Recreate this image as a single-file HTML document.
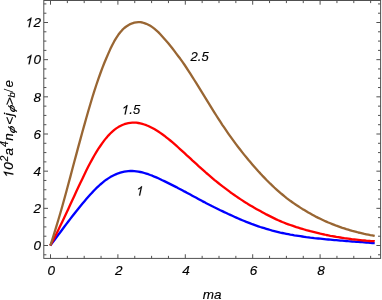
<!DOCTYPE html>
<html><head><meta charset="utf-8"><title>plot</title>
<style>
html,body{margin:0;padding:0;background:#fff;}
body{width:382px;height:300px;overflow:hidden;}
svg{display:block;will-change:transform;}
text{font-family:"Liberation Sans",sans-serif;font-style:italic;font-size:13.5px;fill:#000;stroke:#000;stroke-width:0.15px;}
</style></head><body>
<svg width="382" height="300" viewBox="0 0 382 300">
<defs><path id="one" d="M0.3726 0H0.2847V-0.56Q0.2529 -0.5298 0.2014 -0.4995Q0.1499 -0.4692 0.1089 -0.4541V-0.5391Q0.1826 -0.5737 0.2378 -0.623Q0.293 -0.6724 0.3159 -0.7188H0.3726Z" transform="skewX(-12)" stroke="#000" stroke-width="0.012"/></defs>
<rect width="382" height="300" fill="#fff"/>
<g fill="none" stroke-linejoin="round" stroke-linecap="butt" stroke-width="2.3">
<path d="M50.3 245.5 L52.3 242.9 L54.3 240.2 L56.3 237.5 L58.3 234.8 L60.3 232.2 L62.3 229.5 L64.3 226.8 L66.3 224.1 L68.3 221.5 L70.3 218.9 L72.3 216.3 L74.3 213.7 L76.3 211.2 L78.3 208.7 L80.3 206.2 L82.3 203.8 L84.3 201.5 L86.3 199.1 L88.3 196.8 L90.3 194.6 L92.3 192.4 L94.3 190.3 L96.3 188.2 L98.3 186.3 L100.3 184.5 L102.3 182.8 L104.3 181.2 L106.3 179.7 L108.3 178.4 L110.3 177.1 L112.3 176.0 L114.3 175.0 L116.3 174.1 L118.3 173.3 L120.3 172.7 L122.3 172.1 L124.3 171.7 L126.3 171.3 L128.3 171.1 L130.3 171.0 L132.3 171.0 L134.3 171.1 L136.3 171.3 L138.3 171.6 L140.3 172.0 L142.3 172.4 L144.3 173.0 L146.3 173.6 L148.3 174.2 L150.3 175.0 L152.3 175.7 L154.3 176.6 L156.3 177.4 L158.3 178.3 L160.3 179.2 L162.3 180.2 L164.3 181.1 L166.3 182.1 L168.3 183.1 L170.3 184.1 L172.3 185.1 L174.3 186.1 L176.3 187.1 L178.3 188.2 L180.3 189.2 L182.3 190.3 L184.3 191.4 L186.3 192.4 L188.3 193.5 L190.3 194.6 L192.3 195.7 L194.3 196.8 L196.3 197.8 L198.3 198.9 L200.3 200.0 L202.3 201.1 L204.3 202.1 L206.3 203.2 L208.3 204.2 L210.3 205.2 L212.3 206.3 L214.3 207.3 L216.3 208.2 L218.3 209.2 L220.3 210.2 L222.3 211.1 L224.3 212.1 L226.3 213.0 L228.3 214.0 L230.3 214.9 L232.3 215.8 L234.3 216.7 L236.3 217.6 L238.3 218.5 L240.3 219.4 L242.3 220.2 L244.3 221.0 L246.3 221.9 L248.3 222.6 L250.3 223.4 L252.3 224.2 L254.3 224.9 L256.3 225.6 L258.3 226.3 L260.3 227.0 L262.3 227.6 L264.3 228.2 L266.3 228.8 L268.3 229.4 L270.3 230.0 L272.3 230.6 L274.3 231.1 L276.3 231.6 L278.3 232.1 L280.3 232.6 L282.3 233.0 L284.3 233.4 L286.3 233.8 L288.3 234.2 L290.3 234.6 L292.3 234.9 L294.3 235.3 L296.3 235.6 L298.3 235.9 L300.3 236.2 L302.3 236.5 L304.3 236.8 L306.3 237.1 L308.3 237.3 L310.3 237.6 L312.3 237.8 L314.3 238.1 L316.3 238.3 L318.3 238.5 L320.3 238.7 L322.3 238.9 L324.3 239.1 L326.3 239.3 L328.3 239.5 L330.3 239.7 L332.3 239.9 L334.3 240.1 L336.3 240.2 L338.3 240.4 L340.3 240.6 L342.3 240.7 L344.3 240.9 L346.3 241.0 L348.3 241.2 L350.3 241.3 L352.3 241.5 L354.3 241.6 L356.3 241.8 L358.3 241.9 L360.3 242.1 L362.3 242.2 L364.3 242.4 L366.3 242.5 L368.3 242.7 L370.3 242.9 L372.3 243.0 L374.3 243.2 L374.7 243.2" stroke="#0000ff"/>
<path d="M50.3 245.5 L52.3 241.7 L54.3 237.9 L56.3 233.9 L58.3 229.9 L60.3 225.8 L62.3 221.7 L64.3 217.5 L66.3 213.2 L68.3 209.0 L70.3 204.6 L72.3 200.3 L74.3 195.9 L76.3 191.6 L78.3 187.3 L80.3 183.1 L82.3 178.9 L84.3 174.7 L86.3 170.6 L88.3 166.6 L90.3 162.8 L92.3 159.1 L94.3 155.5 L96.3 152.1 L98.3 148.9 L100.3 146.0 L102.3 143.1 L104.3 140.4 L106.3 137.9 L108.3 135.6 L110.3 133.5 L112.3 131.6 L114.3 129.9 L116.3 128.4 L118.3 127.1 L120.3 126.0 L122.3 125.0 L124.3 124.2 L126.3 123.6 L128.3 123.1 L130.3 122.8 L132.3 122.7 L134.3 122.6 L136.3 122.7 L138.3 123.0 L140.3 123.4 L142.3 123.9 L144.3 124.5 L146.3 125.2 L148.3 126.0 L150.3 127.0 L152.3 128.0 L154.3 129.1 L156.3 130.3 L158.3 131.5 L160.3 132.9 L162.3 134.3 L164.3 135.7 L166.3 137.3 L168.3 138.9 L170.3 140.5 L172.3 142.2 L174.3 143.9 L176.3 145.7 L178.3 147.5 L180.3 149.3 L182.3 151.1 L184.3 152.9 L186.3 154.8 L188.3 156.6 L190.3 158.4 L192.3 160.3 L194.3 162.1 L196.3 163.9 L198.3 165.8 L200.3 167.6 L202.3 169.4 L204.3 171.2 L206.3 173.0 L208.3 174.7 L210.3 176.4 L212.3 178.1 L214.3 179.8 L216.3 181.4 L218.3 183.0 L220.3 184.6 L222.3 186.2 L224.3 187.7 L226.3 189.2 L228.3 190.7 L230.3 192.2 L232.3 193.6 L234.3 195.0 L236.3 196.4 L238.3 197.8 L240.3 199.1 L242.3 200.4 L244.3 201.7 L246.3 202.9 L248.3 204.2 L250.3 205.4 L252.3 206.6 L254.3 207.8 L256.3 208.9 L258.3 210.0 L260.3 211.1 L262.3 212.2 L264.3 213.3 L266.3 214.4 L268.3 215.4 L270.3 216.4 L272.3 217.4 L274.3 218.4 L276.3 219.4 L278.3 220.3 L280.3 221.1 L282.3 222.0 L284.3 222.8 L286.3 223.6 L288.3 224.3 L290.3 225.0 L292.3 225.7 L294.3 226.4 L296.3 227.1 L298.3 227.7 L300.3 228.3 L302.3 228.9 L304.3 229.5 L306.3 230.1 L308.3 230.6 L310.3 231.2 L312.3 231.7 L314.3 232.2 L316.3 232.7 L318.3 233.2 L320.3 233.7 L322.3 234.1 L324.3 234.5 L326.3 235.0 L328.3 235.4 L330.3 235.8 L332.3 236.1 L334.3 236.5 L336.3 236.9 L338.3 237.2 L340.3 237.5 L342.3 237.8 L344.3 238.2 L346.3 238.4 L348.3 238.7 L350.3 239.0 L352.3 239.3 L354.3 239.5 L356.3 239.7 L358.3 239.9 L360.3 240.1 L362.3 240.3 L364.3 240.5 L366.3 240.7 L368.3 240.8 L370.3 241.0 L372.3 241.1 L374.3 241.2 L374.7 241.3" stroke="#ff0000"/>
<path d="M50.3 245.5 L52.3 239.5 L54.3 233.2 L56.3 226.7 L58.3 220.0 L60.3 213.2 L62.3 206.2 L64.3 199.0 L66.3 191.7 L68.3 184.3 L70.3 176.9 L72.3 169.3 L74.3 161.8 L76.3 154.4 L78.3 146.9 L80.3 139.6 L82.3 132.3 L84.3 125.1 L86.3 118.0 L88.3 111.0 L90.3 104.2 L92.3 97.5 L94.3 91.2 L96.3 85.0 L98.3 79.1 L100.3 73.5 L102.3 68.1 L104.3 63.0 L106.3 58.2 L108.3 53.6 L110.3 49.1 L112.3 45.0 L114.3 41.2 L116.3 37.8 L118.3 34.8 L120.3 32.2 L122.3 29.9 L124.3 28.0 L126.3 26.5 L128.3 25.2 L130.3 24.1 L132.3 23.3 L134.3 22.7 L136.3 22.3 L138.3 22.1 L140.3 22.2 L142.3 22.5 L144.3 23.1 L146.3 23.8 L148.3 24.7 L150.3 25.8 L152.3 27.1 L154.3 28.6 L156.3 30.3 L158.3 32.1 L160.3 34.2 L162.3 36.4 L164.3 38.7 L166.3 40.9 L168.3 43.2 L170.3 45.7 L172.3 48.2 L174.3 50.9 L176.3 53.6 L178.3 56.2 L180.3 58.8 L182.3 61.6 L184.3 64.5 L186.3 67.5 L188.3 70.6 L190.3 73.7 L192.3 76.8 L194.3 80.0 L196.3 83.2 L198.3 86.4 L200.3 89.7 L202.3 92.9 L204.3 96.1 L206.3 99.4 L208.3 102.6 L210.3 105.9 L212.3 109.1 L214.3 112.3 L216.3 115.5 L218.3 118.6 L220.3 121.7 L222.3 124.8 L224.3 127.7 L226.3 130.7 L228.3 133.6 L230.3 136.4 L232.3 139.2 L234.3 141.9 L236.3 144.6 L238.3 147.2 L240.3 149.8 L242.3 152.4 L244.3 154.9 L246.3 157.3 L248.3 159.8 L250.3 162.1 L252.3 164.5 L254.3 166.8 L256.3 169.0 L258.3 171.3 L260.3 173.4 L262.3 175.6 L264.3 177.6 L266.3 179.7 L268.3 181.7 L270.3 183.7 L272.3 185.6 L274.3 187.5 L276.3 189.3 L278.3 191.1 L280.3 192.9 L282.3 194.5 L284.3 196.2 L286.3 197.8 L288.3 199.3 L290.3 200.8 L292.3 202.2 L294.3 203.6 L296.3 205.0 L298.3 206.3 L300.3 207.6 L302.3 208.9 L304.3 210.1 L306.3 211.3 L308.3 212.5 L310.3 213.6 L312.3 214.7 L314.3 215.8 L316.3 216.9 L318.3 217.9 L320.3 218.8 L322.3 219.8 L324.3 220.7 L326.3 221.6 L328.3 222.5 L330.3 223.3 L332.3 224.1 L334.3 224.9 L336.3 225.7 L338.3 226.4 L340.3 227.1 L342.3 227.8 L344.3 228.4 L346.3 229.1 L348.3 229.7 L350.3 230.3 L352.3 230.9 L354.3 231.4 L356.3 231.9 L358.3 232.5 L360.3 232.9 L362.3 233.4 L364.3 233.9 L366.3 234.3 L368.3 234.7 L370.3 235.1 L372.3 235.4 L374.3 235.8 L374.7 235.9" stroke="#996633"/>
</g>
<rect x="43.8" y="0.5" width="336.8" height="257.9" fill="none" stroke="#505050" stroke-width="1"/>
<path d="M50.50 258.45V254.25M50.50 0.50V4.70M67.35 258.45V255.85M67.35 0.50V3.10M84.20 258.45V255.85M84.20 0.50V3.10M101.05 258.45V255.85M101.05 0.50V3.10M117.90 258.45V254.25M117.90 0.50V4.70M134.75 258.45V255.85M134.75 0.50V3.10M151.60 258.45V255.85M151.60 0.50V3.10M168.45 258.45V255.85M168.45 0.50V3.10M185.30 258.45V254.25M185.30 0.50V4.70M202.15 258.45V255.85M202.15 0.50V3.10M219.00 258.45V255.85M219.00 0.50V3.10M235.85 258.45V255.85M235.85 0.50V3.10M252.70 258.45V254.25M252.70 0.50V4.70M269.55 258.45V255.85M269.55 0.50V3.10M286.40 258.45V255.85M286.40 0.50V3.10M303.25 258.45V255.85M303.25 0.50V3.10M320.10 258.45V254.25M320.10 0.50V4.70M336.95 258.45V255.85M336.95 0.50V3.10M353.80 258.45V255.85M353.80 0.50V3.10M370.65 258.45V255.85M370.65 0.50V3.10M43.80 254.79H46.40M380.60 254.79H378.00M43.80 245.50H48.00M380.60 245.50H376.40M43.80 236.21H46.40M380.60 236.21H378.00M43.80 226.92H46.40M380.60 226.92H378.00M43.80 217.63H46.40M380.60 217.63H378.00M43.80 208.33H48.00M380.60 208.33H376.40M43.80 199.04H46.40M380.60 199.04H378.00M43.80 189.75H46.40M380.60 189.75H378.00M43.80 180.46H46.40M380.60 180.46H378.00M43.80 171.17H48.00M380.60 171.17H376.40M43.80 161.88H46.40M380.60 161.88H378.00M43.80 152.59H46.40M380.60 152.59H378.00M43.80 143.29H46.40M380.60 143.29H378.00M43.80 134.00H48.00M380.60 134.00H376.40M43.80 124.71H46.40M380.60 124.71H378.00M43.80 115.42H46.40M380.60 115.42H378.00M43.80 106.13H46.40M380.60 106.13H378.00M43.80 96.84H48.00M380.60 96.84H376.40M43.80 87.54H46.40M380.60 87.54H378.00M43.80 78.25H46.40M380.60 78.25H378.00M43.80 68.96H46.40M380.60 68.96H378.00M43.80 59.67H48.00M380.60 59.67H376.40M43.80 50.38H46.40M380.60 50.38H378.00M43.80 41.09H46.40M380.60 41.09H378.00M43.80 31.80H46.40M380.60 31.80H378.00M43.80 22.50H48.00M380.60 22.50H376.40M43.80 13.21H46.40M380.60 13.21H378.00M43.80 3.92H46.40M380.60 3.92H378.00" stroke="#505050" stroke-width="1.0" fill="none"/>
<g><g transform="translate(47.55,274.70)"><text x="0.00" y="0" style="font-size:13.5px">0</text></g><g transform="translate(114.95,274.70)"><text x="0.00" y="0" style="font-size:13.5px">2</text></g><g transform="translate(182.35,274.70)"><text x="0.00" y="0" style="font-size:13.5px">4</text></g><g transform="translate(249.75,274.70)"><text x="0.00" y="0" style="font-size:13.5px">6</text></g><g transform="translate(317.15,274.70)"><text x="0.00" y="0" style="font-size:13.5px">8</text></g><g transform="translate(33.39,250.20)"><text x="0.00" y="0" style="font-size:13.5px">0</text></g><g transform="translate(33.39,213.03)"><text x="0.00" y="0" style="font-size:13.5px">2</text></g><g transform="translate(33.39,175.87)"><text x="0.00" y="0" style="font-size:13.5px">4</text></g><g transform="translate(33.39,138.70)"><text x="0.00" y="0" style="font-size:13.5px">6</text></g><g transform="translate(33.39,101.54)"><text x="0.00" y="0" style="font-size:13.5px">8</text></g><g transform="translate(24.58,64.37)"><use href="#one" transform="translate(0.00,0) scale(13.5)"/><text x="8.81" y="0" style="font-size:13.5px">0</text></g><g transform="translate(24.58,27.20)"><use href="#one" transform="translate(0.00,0) scale(13.5)"/><text x="8.81" y="0" style="font-size:13.5px">2</text></g></g>
<g transform="translate(120.80,114.40)"><use href="#one" transform="translate(0.00,0) scale(13)"/><text x="8.53" y="0" style="font-size:13px">.5</text></g>
<g transform="translate(190.60,61.00)"><text x="0.00" y="0" style="font-size:13px">2.5</text></g>
<g transform="translate(135.30,195.60)"><use href="#one" transform="translate(0.00,0) scale(13)"/></g>
<text x="202.8" y="298.8">ma</text>
<g><g transform="translate(13.30,178.63) rotate(-90)"><use href="#one" transform="translate(0.00,0) scale(13.5)"/><text x="8.81" y="0" style="font-size:13.5px">0</text></g><g transform="translate(7.60,161.51) rotate(-90)"><text x="0.00" y="0" style="font-size:10.5px">2</text></g><g transform="translate(13.30,155.47) rotate(-90)"><text x="0.00" y="0" style="font-size:13.5px">a</text></g><g transform="translate(7.60,147.06) rotate(-90)"><text x="0.00" y="0" style="font-size:10.5px">4</text></g><g transform="translate(13.30,140.76) rotate(-90)"><text x="0.00" y="0" style="font-size:13.5px">n</text></g><g transform="translate(15.30,134.12) rotate(-90) scale(1.35,1) skewX(-15)"><text x="0.00" y="0" style="font-size:9.5px">ϕ</text></g><g transform="translate(14.10,124.84) rotate(-90)"><text x="0.00" y="0" style="font-size:13.5px">&lt;</text></g><g transform="translate(13.30,115.95) rotate(-90)"><text x="0.00" y="0" style="font-size:13.5px">j</text></g><g transform="translate(15.30,113.02) rotate(-90) scale(1.35,1) skewX(-15)"><text x="0.00" y="0" style="font-size:9.5px">ϕ</text></g><g transform="translate(14.10,105.14) rotate(-90)"><text x="0.00" y="0" style="font-size:13.5px">&gt;</text></g><g transform="translate(15.30,97.56) rotate(-90)"><text x="0.00" y="0" style="font-size:9.5px">b</text></g><g transform="translate(13.30,91.95) rotate(-90) scale(0.65,1)"><text x="0.00" y="0" style="font-size:13.5px">/</text></g><g transform="translate(13.30,87.48) rotate(-90)"><text x="0.00" y="0" style="font-size:13.5px">e</text></g></g>
</svg>
</body></html>
